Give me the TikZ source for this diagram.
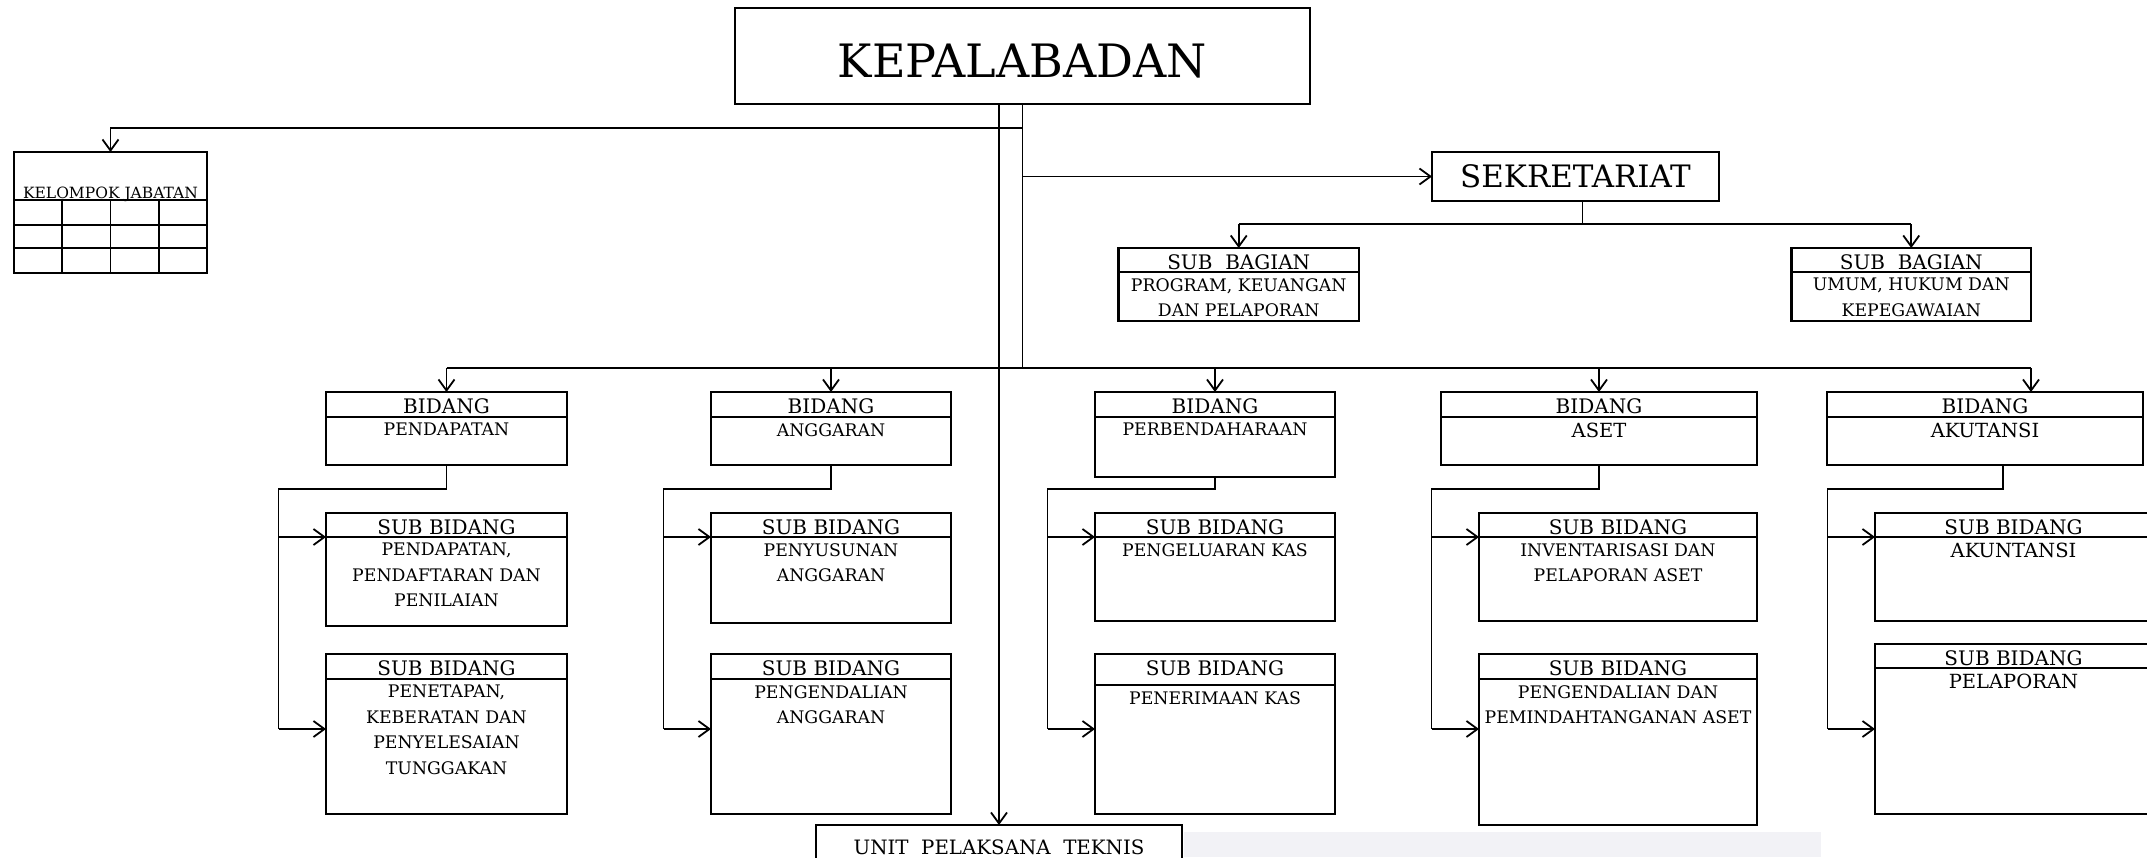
\documentclass[tikz,border=0pt]{standalone}
\usepackage{fontspec}
\setmainfont{DejaVu Serif}
\usetikzlibrary{arrows.meta,positioning,calc}
\definecolor{stripgrey}{HTML}{F2F2F6}
\tikzset{
orgbox/.style={draw,line width=2.1pt,inner sep=0pt,outer sep=0pt,anchor=north west},
headtext/.style={font=\fontsize{20}{24}\selectfont,anchor=base,inner sep=0pt},
bodytext/.style={font=\fontsize{17.3}{25.5}\selectfont,align=center,anchor=north,inner sep=0pt},
bigbody/.style={font=\fontsize{19.5}{25.5}\selectfont},
link/.style={line width=1.8pt},
arrow/.style={link,-{Straight Barb[length=11pt,width=16pt]}}
}
% box with header strip: [body style] name, x1, y1, x2, y2, header height, header, body
\newcommand{\orgunit}[9][]{%
\node[orgbox,minimum width={(#5-#3)*1pt},minimum height={(#6-#4)*1pt}] (#2) at (#3,#4) {};
\draw[line width=2.1pt] ([yshift={-#7*1pt}]#2.north west) -- ([yshift={-#7*1pt}]#2.north east);
\node[headtext] (#2-head) at ([yshift=-21.5pt]#2.north) {#8};
\node[bodytext,#1] (#2-body) at ([yshift={-(#7+6)*1pt}]#2.north) {#9};
}

\begin{document}
\begin{tikzpicture}[x=1pt,y=-1pt]
\path[fill=white] (0,0) rectangle (2147,857);
\useasboundingbox (0,0) rectangle (2147,857);
\fill[stripgrey] (1184,832) rectangle (1821,857);

% rows used by the connectors
\coordinate (kelrow) at (0,128);
\coordinate (busrow) at (0,368);
\coordinate (elbowrow) at (0,489);
\coordinate (subrowA) at (0,537);
\coordinate (subrowB) at (0,729);

% head and staff
\node[orgbox,minimum width=575pt,minimum height=96pt] (kepala) at (735,8) {};
\node[anchor=base,font=\fontsize{46}{52}\selectfont] (kepala-text) at ([yshift=-69pt]kepala.north) {KEPALABADAN};
\node[orgbox,minimum width=287pt,minimum height=49pt,font=\fontsize{30.9}{35}\selectfont] (sekretariat) at (1432,152) {SEKRETARIAT};

\node[orgbox,minimum width=193pt,minimum height=121pt] (kelompok) at (14,152) {};
\node[anchor=base,inner sep=0pt,font=\fontsize{15.5}{18}\selectfont] (kelompok-text) at ([yshift=75pt]kelompok.south) {KELOMPOK JABATAN};
\foreach \dy in {25,48,73}
  \draw[link] ([yshift=\dy pt]kelompok.south west) -- ([yshift=\dy pt]kelompok.south east);
\foreach \f in {0.25,0.5,0.75}
  \draw[link] ($(kelompok.south west)!\f!(kelompok.south east)$) -- ++(0,-73);

\orgunit{sbProgram}{1118.5}{248}{1359}{321}{24}{SUB\ \ BAGIAN}{PROGRAM, KEUANGAN\\DAN PELAPORAN}
\orgunit{sbUmum}{1791.5}{248}{2031}{321}{24}{SUB\ \ BAGIAN}{UMUM, HUKUM DAN\\KEPEGAWAIAN}

% bidang
\orgunit{bPendapatan}{326}{392}{567}{465}{25}{BIDANG}{PENDAPATAN}
\orgunit{bAnggaran}{711}{392}{951}{465}{25}{BIDANG}{ANGGARAN}
\orgunit{bPerbendaharaan}{1095}{392}{1335}{477}{25}{BIDANG}{PERBENDAHARAAN}
\orgunit[bigbody]{bAset}{1441}{392}{1757}{465}{25}{BIDANG}{ASET}
\orgunit[bigbody]{bAkutansi}{1827}{392}{2143}{465}{25}{BIDANG}{AKUTANSI}

% sub bidang
\orgunit{sPendapatan}{326}{513}{567}{626}{24}{SUB BIDANG}{PENDAPATAN,\\PENDAFTARAN DAN\\PENILAIAN}
\orgunit{sPenetapan}{326}{654}{567}{814}{25}{SUB BIDANG}{PENETAPAN,\\KEBERATAN DAN\\PENYELESAIAN\\TUNGGAKAN}
\orgunit{sPenyusunan}{711}{513}{951}{623}{24}{SUB BIDANG}{PENYUSUNAN\\ANGGARAN}
\orgunit{sPengendalian}{711}{654}{951}{814}{25}{SUB BIDANG}{PENGENDALIAN\\ANGGARAN}
\orgunit{sPengeluaran}{1095}{513}{1335}{621}{24}{SUB BIDANG}{PENGELUARAN KAS}
\orgunit{sPenerimaan}{1095}{654}{1335}{814}{31}{SUB BIDANG}{PENERIMAAN KAS}
\orgunit{sInventaris}{1479}{513}{1757}{621}{24}{SUB BIDANG}{INVENTARISASI DAN\\PELAPORAN ASET}
\orgunit{sPemindahan}{1479}{654}{1757}{825}{25}{SUB BIDANG}{PENGENDALIAN DAN\\PEMINDAHTANGANAN ASET}
\orgunit[bigbody]{sAkuntansi}{1875}{513}{2152}{621}{24}{SUB BIDANG}{AKUNTANSI}
\orgunit[bigbody]{sPelaporan}{1875}{644}{2152}{814}{24}{SUB BIDANG}{PELAPORAN}

% unit pelaksana teknis
\node[orgbox,minimum width=366pt,minimum height=80pt] (upt) at (816,825) {};
\node[anchor=base,inner sep=0pt,font=\fontsize{19.8}{23}\selectfont] (upt-text) at ([yshift=-29pt]upt.north) {UNIT\ \ PELAKSANA\ \ TEKNIS};

% connectors
\draw[link] (kepala.south) -- (kepala.south |- busrow);
\draw[arrow] (kepala.south -| upt.north) -- (upt.north);
\draw[arrow] (kepala.south |- kelrow) -| (kelompok.north);
\draw[arrow] (kepala.south |- sekretariat.west) -- (sekretariat.west);

\draw[link] ([xshift=7pt]sekretariat.south) -- ++(0,23) coordinate (sekbus);
\draw[link] (sbProgram.north |- sekbus) -- (sbUmum.north |- sekbus);
\draw[arrow] (sbProgram.north |- sekbus) -- (sbProgram.north);
\draw[arrow] (sbUmum.north |- sekbus) -- (sbUmum.north);

\foreach \bid/\dx in {bPendapatan/0,bAnggaran/0,bPerbendaharaan/0,bAset/0,bAkutansi/46}{
  \coordinate (\bid-in) at ([xshift=\dx pt]\bid.north);
  \draw[arrow] (\bid-in |- busrow) -- (\bid-in);
}
\draw[link] (bPendapatan-in |- busrow) -- (bAkutansi-in |- busrow);

\foreach \bid/\subA/\subB/\dx in {bPendapatan/sPendapatan/sPenetapan/0,
    bAnggaran/sPenyusunan/sPengendalian/0,
    bPerbendaharaan/sPengeluaran/sPenerimaan/0,
    bAset/sInventaris/sPemindahan/0,
    bAkutansi/sAkuntansi/sPelaporan/18}{
  \coordinate (\bid-out) at ([xshift=\dx pt]\bid.south);
  \coordinate (\bid-elbow) at ([xshift=-47.5pt]\subA.north west);
  \draw[link] (\bid-out) -- (\bid-out |- elbowrow) -- (\bid-elbow |- elbowrow) -- (\bid-elbow |- subrowB);
  \draw[arrow] (\bid-elbow |- subrowA) -- (\subA.west |- subrowA);
  \draw[arrow] (\bid-elbow |- subrowB) -- (\subB.west |- subrowB);
}
\end{tikzpicture}
\end{document}
